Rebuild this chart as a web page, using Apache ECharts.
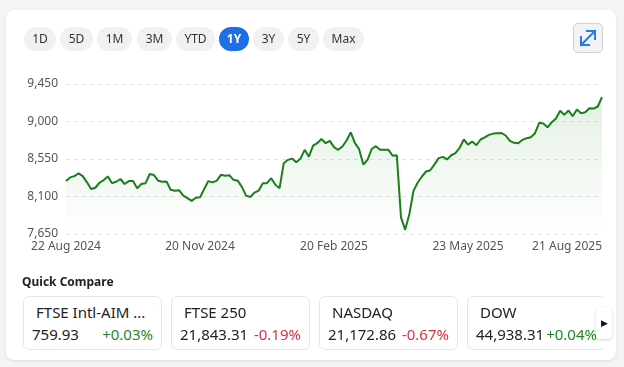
<!DOCTYPE html>
<html><head><meta charset="utf-8">
<script src="https://cdn.jsdelivr.net/npm/echarts@6/dist/echarts.min.js"></script>
<style>
html,body{margin:0;padding:0;width:624px;height:367px;background:#f4f4f4;font-family:"Noto Sans","Open Sans",sans-serif;overflow:hidden}
#card{position:absolute;left:6px;top:10px;width:610px;height:350px;background:#fff;border-radius:8px;box-shadow:0 1px 3px rgba(0,0,0,0.10)}
#chart{position:absolute;left:0;top:0;width:624px;height:367px}
.pill{position:absolute;top:27px;height:24px;line-height:24px;border-radius:12px;background:#f1f1f1;color:#333;font-size:12px;text-align:center}
.pill.on{background:#1c6fe6;color:#fff;font-weight:bold}
#expand{position:absolute;left:573px;top:23px;width:28px;height:28px;border:1px solid #d2d2d2;border-radius:5px;background:#f3f3f3}
#qc{position:absolute;left:22px;top:273px;font-size:12px;font-weight:bold;color:#222}
#row{position:absolute;left:22px;top:296px;width:582px;height:56px;overflow:hidden}
.qcard{position:absolute;top:0;width:137px;height:52px;border:1px solid #e6e6e6;border-radius:6px;background:#fff}
.qname{position:absolute;left:12px;top:5px;font-size:15px;color:#222;white-space:nowrap}
.qval{position:absolute;left:8px;right:8px;top:27px;font-size:15px;color:#222;display:flex;justify-content:space-between;white-space:nowrap}
.up{color:#1f8a1f}.dn{color:#d93340}
#next{position:absolute;left:596px;top:307px;width:16px;height:32px;background:#fff;border-radius:4px;box-shadow:0 1px 3px rgba(0,0,0,0.18);font-size:9px;line-height:32px;text-align:center;color:#111}
</style></head>
<body>
<div id="card"></div>
<div id="chart"></div>
<div id="ui"></div>
<div id="expand"><svg width="28" height="28" viewBox="0 0 28 28"><g stroke="#2b7be6" stroke-width="2" fill="none" stroke-linecap="square"><line x1="7" y1="21" x2="21" y2="7"/><polyline points="13,7 21,7 21,15"/><polyline points="7,13 7,21 15,21"/></g></svg></div>
<div id="qc">Quick Compare</div>
<div id="row"></div>
<div id="next">&#9654;</div>
<script>
const periods = ['1D','5D','1M','3M','YTD','1Y','3Y','5Y','Max'];
const tickLabels = ['22 Aug 2024','20 Nov 2024','20 Feb 2025','23 May 2025','21 Aug 2025'];
const values = [
 8285,8329,8345,8377,8345,8270,8190,8205,8265,8297,
 8340,8260,8277,8310,8250,8285,8285,8200,8249,8260,
 8370,8357,8290,8277,8280,8180,8170,8176,8110,8080,
 8048,8085,8090,8190,8285,8270,8290,8360,8350,8355,
 8300,8290,8216,8110,8094,8146,8170,8260,8260,8320,
 8240,8200,8500,8540,8555,8510,8555,8660,8578,8710,
 8740,8790,8740,8768,8692,8660,8700,8772,8870,8740,
 8668,8484,8540,8670,8704,8660,8660,8660,8590,8595,
 7850,7700,7890,8170,8268,8340,8400,8415,8485,8560,
 8575,8545,8595,8620,8685,8784,8722,8760,8715,8784,
 8810,8840,8855,8860,8862,8832,8768,8744,8740,8780,
 8800,8812,8860,8984,8975,8930,8992,9035,9130,9080,
 9132,9064,9144,9100,9110,9160,9155,9180,9292
];
const compareNames = ['FTSE Intl-AIM ...','FTSE 250','NASDAQ','DOW'];
const compareValues = ['759.93','21,843.31','21,172.86','44,938.31'];
const compareChanges = ['+0.03%','-0.19%','-0.67%','+0.04%'];

// UI
const pillPos = [[24,32],[60,33],[97,35],[137,35],[176,39],[219,30],[253,31],[288,31],[323,41]];
const ui = document.getElementById('ui');
periods.forEach((p,i)=>{
  const d=document.createElement('div');
  d.className='pill'+(p==='1Y'?' on':'');
  d.style.left=pillPos[i][0]+'px'; d.style.width=pillPos[i][1]+'px';
  d.textContent=p; ui.appendChild(d);
});
const row=document.getElementById('row');
compareNames.forEach((n,i)=>{
  const c=document.createElement('div'); c.className='qcard'; c.style.left=(1+i*148)+'px';
  const nm=document.createElement('div'); nm.className='qname'; nm.textContent=n;
  const v=document.createElement('div'); v.className='qval';
  const a=document.createElement('span'); a.textContent=compareValues[i];
  const b=document.createElement('span'); b.textContent=compareChanges[i];
  b.className=compareChanges[i][0]==='-'?'dn':'up';
  v.appendChild(a); v.appendChild(b); c.appendChild(nm); c.appendChild(v); row.appendChild(c);
});

const chart = echarts.init(document.getElementById('chart'));
const step = (values.length-1)/(tickLabels.length-1);
chart.setOption({
  animation:false,
  grid:{left:66,right:22,top:84,bottom:133},
  xAxis:{type:'value',min:0,max:values.length-1,interval:step,
    axisLine:{show:false},axisTick:{show:false},splitLine:{show:false},
    axisLabel:{formatter:v=>tickLabels[Math.round(v/step)],color:'#555',fontSize:12,margin:7,
      fontFamily:'Noto Sans',alignMaxLabel:'right'}},
  yAxis:{type:'value',min:7650,max:9450,interval:450,
    axisLine:{show:false},axisTick:{show:false},
    axisLabel:{formatter:v=>v.toLocaleString('en-US'),color:'#555',fontSize:12,margin:8,fontFamily:'Noto Sans'},
    splitLine:{lineStyle:{type:[4,4],color:'#e2e2e2',width:1}}},
  series:[{type:'line',data:values.map((v,i)=>[i,v]),showSymbol:false,
    lineStyle:{color:'#1a7f1a',width:2},
    areaStyle:{color:new echarts.graphic.LinearGradient(0,0,0,1,[
      {offset:0,color:'rgba(26,127,26,0.17)'},{offset:1,color:'rgba(26,127,26,0.0)'}])}}]
});
</script>
</body></html>
